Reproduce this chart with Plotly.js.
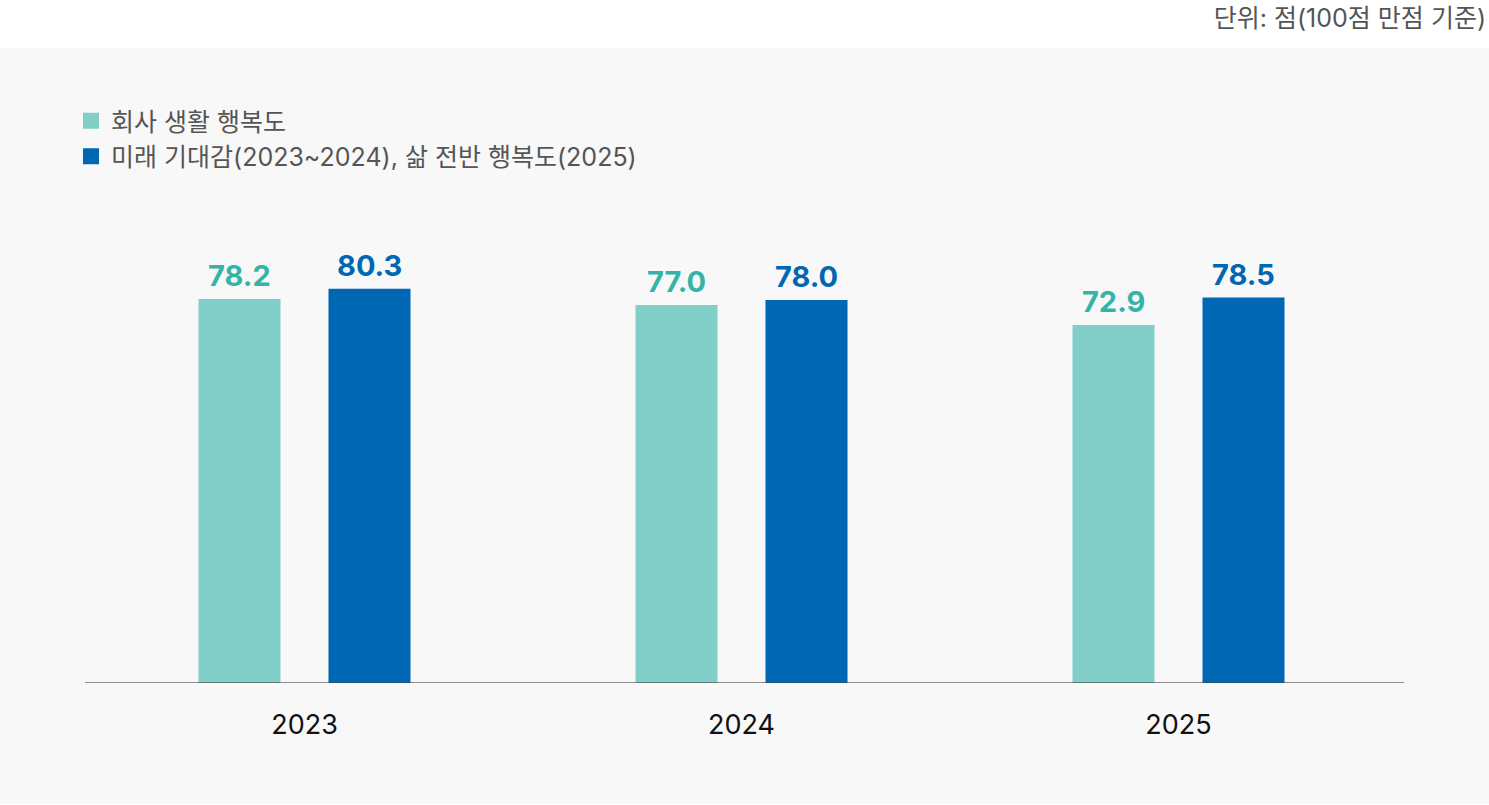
<!DOCTYPE html>
<html>
<head>
<meta charset="utf-8">
<script src="https://cdn.plot.ly/plotly-3.0.1.min.js"></script>
<style>
  html, body { margin: 0; padding: 0; background: #ffffff; }
  #chart { width: 1489px; height: 805px; }
</style>
</head>
<body>
<div id="chart"></div>
<script>
// ---- data ----
const categories = ['2023', '2024', '2025'];
const companyLife = [78.2, 77.0, 72.9];
const futureLife = [80.3, 78.0, 78.5];
const seriesNames = ['회사 생활 행복도', '미래 기대감(2023~2024), 삶 전반 행복도(2025)'];
const unitText = '단위: 점(100점 만점 기준)';

// ---- style ----
const W = 1489, H = 805;
const M = { l: 86, r: 92, t: 192, b: 122 };
const plotW = W - M.l - M.r, plotH = H - M.t - M.b;
const bottomPx = M.t + plotH;
const teal = '#82cfca', tealText = '#36b3a8', blue = '#0067b5';
const fontFam = 'Inter, "Noto Sans CJK KR", "Noto Sans", sans-serif';
const pxX = v => (v - M.l) / plotW;          // page px -> paper x
const pxY = v => (bottomPx - v) / plotH;      // page px -> paper y

const traces = [
  { type: 'bar', x: categories, y: companyLife, name: seriesNames[0],
    marker: { color: teal }, showlegend: false, hoverinfo: 'skip' },
  { type: 'bar', x: categories, y: futureLife, name: seriesNames[1],
    marker: { color: blue }, showlegend: false, hoverinfo: 'skip' },
  // legend entries
  { type: 'scatter', mode: 'markers', x: [null], y: [null], name: seriesNames[0],
    marker: { color: teal, symbol: 'square', size: 16 }, legendgroup: 'a' },
  { type: 'scatter', mode: 'markers', x: [null], y: [null], name: seriesNames[1],
    marker: { color: blue, symbol: 'square', size: 16 }, legendgroup: 'b' }
];

const annotations = [];
categories.forEach((c, i) => {
  annotations.push({ x: i, y: companyLife[i], xref: 'x', yref: 'y', text: companyLife[i].toFixed(1),
    showarrow: false, xshift: -65, yshift: 4, yanchor: 'bottom',
    font: { family: fontFam, size: 29, color: tealText, weight: 700 } });
  annotations.push({ x: i, y: futureLife[i], xref: 'x', yref: 'y', text: futureLife[i].toFixed(1),
    showarrow: false, xshift: 65, yshift: 4, yanchor: 'bottom',
    font: { family: fontFam, size: 29, color: blue, weight: 700 } });
});

const layout = {
  width: W, height: H,
  margin: M,
  paper_bgcolor: '#ffffff',
  plot_bgcolor: 'rgba(0,0,0,0)',
  font: { family: fontFam, color: '#555555' },
  title: { text: unitText, xref: 'container', yref: 'container', x: 1486 / W, xanchor: 'right',
           y: 1 - 18 / H, yanchor: 'middle', font: { family: fontFam, size: 25, color: '#555555' } },
  barmode: 'group',
  bargap: 0.405,
  bargroupgap: 0.369,
  showlegend: true,
  legend: {
    x: pxX(71), xanchor: 'left', y: pxY(98), yanchor: 'top',
    orientation: 'v', bgcolor: 'rgba(0,0,0,0)', tracegroupgap: 0,
    font: { family: fontFam, size: 25, color: '#555555' }
  },
  xaxis: {
    type: 'category', range: [-0.5, 2.5], showgrid: false, zeroline: false, showline: false,
    ticks: '', ticklabelstandoff: 23,
    tickfont: { family: fontFam, size: 27, color: '#111111' }, fixedrange: true
  },
  yaxis: {
    range: [0, 100], showgrid: false, zeroline: false, showline: false,
    showticklabels: false, ticks: '', fixedrange: true
  },
  shapes: [
    { type: 'rect', xref: 'paper', yref: 'paper', layer: 'below',
      x0: pxX(0), x1: pxX(W), y0: pxY(804), y1: pxY(48),
      fillcolor: '#f8f8f8', line: { width: 0 } },
    { type: 'line', xref: 'paper', yref: 'y', layer: 'above',
      x0: pxX(85), x1: pxX(1404), y0: 0, y1: 0,
      line: { color: 'rgba(70,70,70,0.8)', width: 1.6 } }
  ],
  annotations: annotations
};

Plotly.newPlot('chart', traces, layout, { displayModeBar: false, staticPlot: true });
</script>
</body>
</html>
